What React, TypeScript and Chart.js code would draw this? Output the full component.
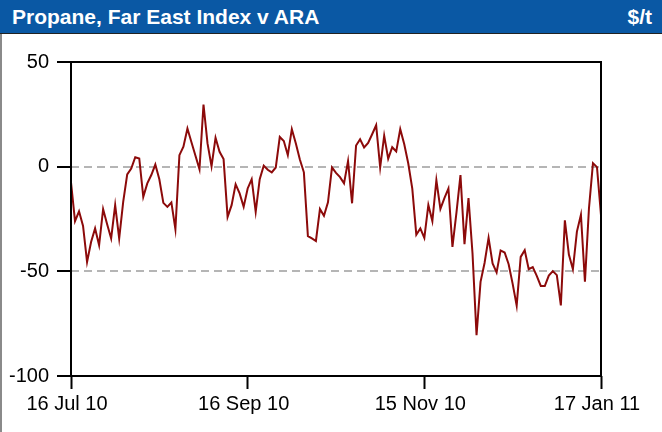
import React, { useEffect, useRef } from 'react';
import { Chart, registerables } from 'chart.js';

Chart.register(...registerables);

const chartTitle = 'Propane, Far East Index v ARA';
const unitLabel = '$/t';
const tickIndices = [0, 44, 88, 132];
const tickLabels = ['16 Jul 10', '16 Sep 10', '15 Nov 10', '17 Jan 11'];
const yMin = -100;
const yMax = 50;
const yStep = 50;
const dashedGridValues = [0, -50];

const spreadValues = [
  -7.5, -26, -21.3, -28.3, -45.5, -36, -29.5, -37.5, -20.3, -27.5,
  -34.3, -18.4, -34.3, -16.8, -3.7, -0.9, 4.5, 3.9, -14.4, -8.0,
  -4, 1.0, -6, -17.3, -19.2, -17.1, -29.9, 5.5, 9.5, 18.2,
  11.7, 5.2, -1.3, 29.7, 11.1, 0.2, 13.8, 7.1, 3.6, -24,
  -18.4, -8.4, -12.8, -19.2, -10.4, -6.0, -21.6, -6, 0.5, -1.5,
  -2.7, -0.4, 14.2, 12.3, 5.5, 17.9, 11.1, 3.4, -2.7, -33.2,
  -34.3, -35.5, -20.2, -23.5, -17, -0.4, -3, -5, -8, 2.7,
  -17.5, 10.1, 13.1, 9.2, 11.3, 15.5, 19.8, -0.4, 14.8, 3.8,
  9.3, 7.3, 17.9, 10.7, 1.5, -10.5, -32.5, -29.5, -34, -18.3,
  -26, -6.5, -20.2, -15, -10.4, -38.3, -22, -4, -37, -15,
  -41.5, -80.5, -55, -46, -34, -46.2, -50.5, -40, -41, -46.6,
  -56, -66.4, -43.1, -39.9, -49, -48, -52.2, -57, -57, -52,
  -49.9, -51.8, -66.3, -25.6, -42, -49, -31, -23, -55, -20,
  1.7, -0.2, -23.2,
];

const FONT = '"Liberation Sans", Arial, Helvetica, sans-serif';

const boxPlugin = {
  id: 'plotBox',
  afterDatasetsDraw(chart: any) {
    const { ctx, chartArea: a } = chart;
    ctx.save();
    ctx.strokeStyle = '#000';
    ctx.lineWidth = 2;
    ctx.strokeRect(a.left, a.top, a.right - a.left, a.bottom - a.top);
    ctx.restore();
  },
};

export default function App() {
  const canvasRef = useRef<HTMLCanvasElement | null>(null);

  useEffect(() => {
    const canvas = canvasRef.current;
    if (!canvas) return;
    const chart = new Chart(canvas, {
      type: 'line',
      data: {
        datasets: [
          {
            label: chartTitle,
            data: spreadValues.map((y, i) => ({ x: i, y })),
            borderColor: '#8c0a0a',
            borderWidth: 2,
            pointRadius: 0,
            tension: 0,
            fill: false,
          },
        ],
      },
      options: {
        responsive: false,
        animation: false,
        events: [],
        layout: { padding: { top: 62, right: 61, left: 0, bottom: 0 } },
        plugins: {
          legend: { display: false },
          tooltip: { enabled: false },
          title: { display: false },
        },
        scales: {
          x: {
            type: 'linear',
            min: 0,
            max: tickIndices[tickIndices.length - 1],
            afterBuildTicks: (scale: any) => {
              scale.ticks = tickIndices.map((v) => ({ value: v }));
            },
            afterFit: (scale: any) => {
              scale.height = 56;
            },
            ticks: {
              autoSkip: false,
              maxRotation: 0,
              minRotation: 0,
              padding: 3,
              labelOffset: -4,
              color: '#000',
              font: { family: FONT, size: 20 },
              callback: (value: any) => {
                const k = tickIndices.indexOf(Number(value));
                return k >= 0 ? tickLabels[k] : '';
              },
            },
            grid: {
              drawOnChartArea: false,
              drawTicks: true,
              tickLength: 13,
              tickColor: '#000',
              tickWidth: 2,
              color: '#000',
            },
            border: { display: false },
          },
          y: {
            min: yMin,
            max: yMax,
            afterFit: (scale: any) => {
              scale.width = 71;
            },
            ticks: {
              stepSize: yStep,
              padding: 8,
              color: '#000',
              font: { family: FONT, size: 20 },
            },
            grid: {
              color: (ctx: any) =>
                ctx.tick && dashedGridValues.includes(ctx.tick.value)
                  ? '#b5b5b5'
                  : 'rgba(0,0,0,0)',
              lineWidth: 2,
              tickLength: 14,
              tickColor: '#000',
              tickWidth: 2,
            },
            border: { display: false, dash: [8, 5] },
          },
        },
      },
      plugins: [boxPlugin],
    });
    return () => chart.destroy();
  }, []);

  return (
    <div style={{ position: 'relative', width: 662, height: 432, background: '#fff', overflow: 'hidden' }}>
      <style>{`html,body{margin:0;padding:0;background:#fff;}`}</style>
      <canvas
        ref={canvasRef}
        width={662}
        height={432}
        style={{ position: 'absolute', left: 0, top: 0, display: 'block' }}
      />
      <div
        style={{
          position: 'absolute',
          left: 0,
          top: 0,
          width: 662,
          height: 33,
          background: '#0a58a4',
          borderBottom: '1px solid #222',
          color: '#fff',
          fontFamily: FONT,
          fontWeight: 'bold',
          fontSize: 21,
          lineHeight: '33px',
          boxSizing: 'content-box',
        }}
      >
        <span style={{ position: 'absolute', left: 12, top: 0 }}>{chartTitle}</span>
        <span style={{ position: 'absolute', right: 10, top: 0 }}>{unitLabel}</span>
      </div>
      <div style={{ position: 'absolute', left: 0, top: 34, width: 2, height: 398, background: '#8a8a8a' }} />
    </div>
  );
}
